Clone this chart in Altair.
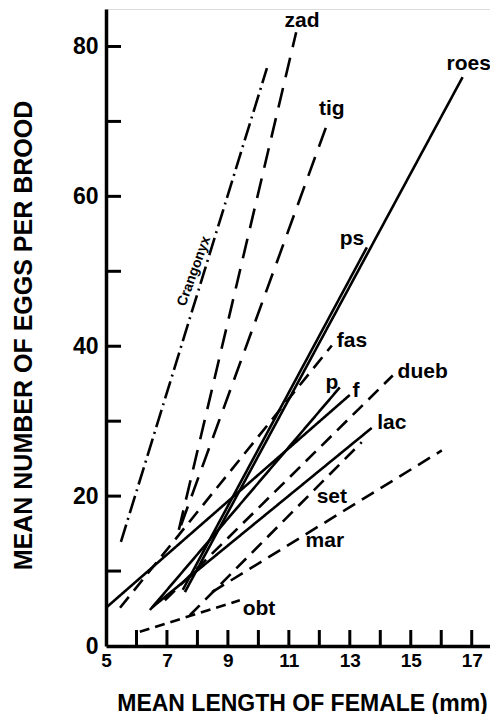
import altair as alt
import pandas as pd

# ---- data ----
series = ["Crangonyx", "zad", "tig", "roes", "ps", "p", "f", "lac",
          "fas", "dueb", "set", "mar", "obt"]
styles = ["dashdot", "dashlong", "dashlong", "solid", "solid", "solid", "solid", "solid",
          "dash", "dash", "dash", "dash", "dashshort"]
x_start = [5.49, 7.39, 7.46, 7.59, 7.52, 6.44, 5.00, 6.50, 5.46, 6.93, 7.75, 8.48, 6.11]
y_start = [13.9, 15.5, 16.1, 7.2, 7.5, 4.8, 5.1, 5.1, 5.1, 6.1, 4.1, 7.2, 1.9]
x_end = [10.28, 11.24, 12.28, 16.70, 13.56, 12.67, 13.00, 13.72, 12.41, 14.41, 13.39, 16.02, 9.39]
y_end = [77.1, 81.9, 69.9, 75.9, 53.2, 34.5, 33.5, 29.1, 40.1, 36.1, 27.2, 26.1, 6.1]

labels = ["zad", "tig", "roes", "ps", "fas", "p", "f", "dueb", "lac", "set", "mar", "obt"]
label_x = [11.43, 12.41, 16.9, 13.07, 13.07, 12.41, 13.2, 15.39, 14.38, 12.41, 12.18, 10.02]
label_y = [83.4, 71.7, 77.7, 54.3, 40.7, 35.1, 34.0, 36.5, 29.7, 19.9, 14.0, 4.9]

crang_label = ["Crangonyx"]
crang_x = [7.89]
crang_y = [50.0]

y_label_values = [0, 20, 40, 60, 80]
y_tick_values = [10, 20, 30, 40, 50, 60, 70, 80]
x_label_values = [5, 7, 9, 11, 13, 15, 17]
x_tick_values = [6, 7, 8, 9, 10, 11, 12, 13, 14, 15, 16, 17]

# ---- tables ----
rows = []
for s, st, xa, ya, xb, yb in zip(series, styles, x_start, y_start, x_end, y_end):
    rows.append({"series": s, "style": st, "x": xa, "y": ya, "o": 0})
    rows.append({"series": s, "style": st, "x": xb, "y": yb, "o": 1})
lines_df = pd.DataFrame(rows)
lab_df = pd.DataFrame({"label": labels, "x": label_x, "y": label_y})
crang_df = pd.DataFrame({"label": crang_label, "x": crang_x, "y": crang_y})
ytick_df = pd.DataFrame({"v": y_tick_values})
xtick_df = pd.DataFrame({"v": x_tick_values})

W, H = 384, 637
FONT = "Liberation Sans"

xscale = alt.Scale(domain=[5, 17.6], nice=False, zero=False)
yscale = alt.Scale(domain=[0, 85], nice=False, zero=False)

xaxis = alt.Axis(values=x_label_values, ticks=False, grid=False, domainWidth=3.5,
                 domainColor="black", labelFont=FONT, labelFontSize=19,
                 labelFontWeight="bold", labelColor="black", labelPadding=5,
                 title="MEAN LENGTH OF FEMALE (mm)", titleFont=FONT, titleFontSize=23,
                 titleFontWeight="bold", titleColor="black", titleX=196, titleY=64,
                 titleBaseline="alphabetic", titleAnchor="middle", labelFlush=False)
yaxis = alt.Axis(values=y_label_values, ticks=False, grid=False, domainWidth=3.5,
                 domainColor="black", labelFont=FONT, labelFontSize=23,
                 labelFontWeight="bold", labelColor="black", labelPadding=8,
                 title="MEAN NUMBER OF EGGS PER BROOD", titleFont=FONT, titleFontSize=25,
                 titleFontWeight="bold", titleColor="black", titleX=-75, titleY=326,
                 titleBaseline="alphabetic", titleAnchor="middle", labelFlush=False)

dash_scale = alt.Scale(domain=["solid", "dashlong", "dash", "dashshort", "dashdot"],
                       range=[[1, 0], [20, 11], [14, 8], [10, 6], [18, 5, 2, 5]])

lines = alt.Chart(lines_df).mark_line(color="black", strokeWidth=2.6, strokeCap="butt").encode(
    x=alt.X("x:Q", scale=xscale, axis=xaxis),
    y=alt.Y("y:Q", scale=yscale, axis=yaxis),
    detail="series:N",
    order="o:Q",
    strokeDash=alt.StrokeDash("style:N", scale=dash_scale, legend=None),
)

texts = alt.Chart(lab_df).mark_text(font=FONT, fontSize=21, fontWeight="bold",
                                     color="black", align="center", baseline="middle").encode(
    x=alt.X("x:Q", scale=xscale), y=alt.Y("y:Q", scale=yscale), text="label:N")

crang = alt.Chart(crang_df).mark_text(font=FONT, fontSize=14, fontWeight="bold",
                                       color="black", align="center", baseline="middle",
                                       angle=290).encode(
    x=alt.X("x:Q", scale=xscale), y=alt.Y("y:Q", scale=yscale), text="label:N")

yticks = alt.Chart(ytick_df).mark_rule(color="black", strokeWidth=3).encode(
    y=alt.Y("v:Q", scale=yscale), x=alt.value(0), x2=alt.value(15))

xticks = alt.Chart(xtick_df).mark_rule(color="black", strokeWidth=3).encode(
    x=alt.X("v:Q", scale=xscale), y=alt.value(H), y2=alt.value(H - 16))

chart = alt.layer(lines, texts, crang, yticks, xticks).properties(
    width=W, height=H,
    autosize=alt.AutoSizeParams(type="none"),
    padding={"left": 98, "top": 1, "right": 0, "bottom": 68},
).configure_view(stroke=None).configure(background="white")

chart.save("out.html", embed_options={"renderer": "svg", "actions": False})
